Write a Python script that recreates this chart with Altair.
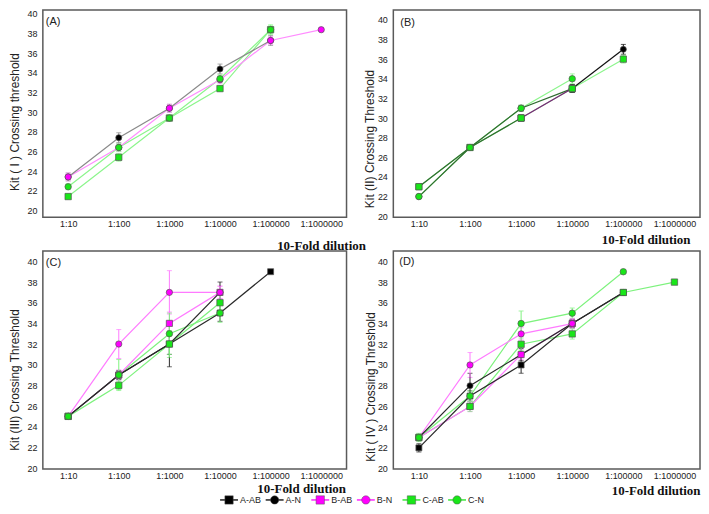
import altair as alt
import pandas as pd

N = None
dilutions = ["1:10", "1:100", "1:1000", "1:10000", "1:100000", "1:1000000"]
series = ["A-AB", "A-N", "B-AB", "B-N", "C-AB", "C-N"]
y_ticks = [20, 22, 24, 26, 28, 30, 32, 34, 36, 38, 40]

# ---- Kit (I) : panel A
k1_AAB = [N, N, N, N, N, N]
k1_AN = [23.4, 27.4, 30.4, 34.4, 37.3, N]
k1_BAB = [N, N, N, N, N, N]
k1_BN = [23.4, 26.4, 30.4, 33.3, 37.3, 38.4]
k1_CAB = [21.4, 25.4, 29.4, 32.4, 38.4, N]
k1_CN = [22.4, 26.4, 29.4, 33.4, 38.4, N]
e1_AAB = [N, N, N, N, N, N]
e1_AN = [0.4, 0.5, 0.4, 0.5, 0.5, N]
e1_BAB = [N, N, N, N, N, N]
e1_BN = [0.4, 0.4, 0.4, 0.4, 0.4, 0.0]
e1_CAB = [0.3, 0.4, 0.3, 0.3, 0.4, N]
e1_CN = [0.3, 0.4, 0.3, 0.4, 0.5, N]

# ---- Kit (II) : panel B
k2_AAB = [23, 27, 30, N, N, N]
k2_AN = [N, N, N, 33, 37, N]
k2_BAB = [N, N, 30, 33, N, N]
k2_BN = [22, 27, 31, 33, N, N]
k2_CAB = [23, 27, 30, 33, 36, N]
k2_CN = [22, 27, 31, 34, N, N]
e2_AAB = [0.2, 0.2, 0.3, N, N, N]
e2_AN = [N, N, N, 0.4, 0.5, N]
e2_BAB = [N, N, 0.3, 0.4, N, N]
e2_BN = [0.2, 0.2, 0.3, 0.4, N, N]
e2_CAB = [0.2, 0.2, 0.3, 0.3, 0.4, N]
e2_CN = [0.2, 0.2, 0.3, 0.5, N, N]

# ---- Kit (III) : panel C
k3_AAB = [25, 29, 32, 35, 39, N]
k3_AN = [25, 29, 32, 37, N, N]
k3_BAB = [25, 29, 34, 37, N, N]
k3_BN = [25, 32, 37, 37, N, N]
k3_CAB = [25, 28, 32, 36, N, N]
k3_CN = [25, 29, 33, 35, N, N]
e3_AAB = [0.2, 0.4, 2.2, 0.8, 0.1, N]
e3_AN = [0.2, 0.4, 1.0, 1.0, N, N]
e3_BAB = [0.2, 0.5, 1.1, 0.6, N, N]
e3_BN = [0.2, 1.4, 2.1, 0.6, N, N]
e3_CAB = [0.2, 0.4, 1.3, 0.7, N, N]
e3_CN = [0.2, 1.5, 2.0, 0.9, N, N]

# ---- Kit (IV) : panel D
k4_AAB = [22, 27, 30, 34, 37, N]
k4_AN = [23, 28, 31, 34, 37, N]
k4_BAB = [23, 26, 31, 34, N, N]
k4_BN = [23, 30, 33, 34, N, N]
k4_CAB = [23, 26, 32, 33, 37, 38]
k4_CN = [23, 27, 34, 35, 39, N]
e4_AAB = [0.4, 0.5, 0.8, 0.4, 0.2, N]
e4_AN = [0.3, 1.2, 0.6, 0.4, 0.2, N]
e4_BAB = [0.3, 0.5, 0.5, 0.5, N, N]
e4_BN = [0.3, 1.2, 0.6, 0.4, N, N]
e4_CAB = [0.3, 0.5, 0.6, 0.5, 0.2, 0.1]
e4_CN = [0.4, 0.5, 1.2, 0.5, 0.1, N]

# ---- styles
marker_fill = ["#000000", "#000000", "#ff00ff", "#ff00ff", "#19e619", "#19e619"]
marker_shape = ["square", "circle", "square", "circle", "square", "circle"]
marker_size = [36, 42, 32, 36, 28, 22]
line_A = ["#8a8a8a", "#8a8a8a", "#ff8cff", "#ff8cff", "#8cf58c", "#8cf58c"]
line_B = ["#2f6b2f", "#111111", "#7a1f7a", "#2f6b2f", "#8cf58c", "#8cf58c"]
line_CD = ["#2a2a2a", "#2a2a2a", "#ff7aff", "#ff7aff", "#7df27d", "#7df27d"]

SANS = "Liberation Sans"
SERIF = "Liberation Serif"


def make_df(vals, errs):
    rows = []
    for s, v_list, e_list in zip(series, vals, errs):
        for d, v, e in zip(dilutions, v_list, e_list):
            if v is None:
                continue
            e = e or 0.0
            rows.append({"series": s, "dil": d, "ct": v, "lo": v - e, "hi": v + e})
    return pd.DataFrame(rows)


def panel(df, letter, ytitle, ydom, line_colors, w, h, xt_x, xt_y, yt_x, yt_y, lab_dx, lab_dy, legend=False):
    x_axis = alt.Axis(
        title="10-Fold dilution", labelAngle=0, labelFont=SANS, labelFontSize=9, labelColor="#222",
        ticks=False, domain=False, grid=False, labelPadding=2,
        titleFont=SERIF, titleFontWeight="bold", titleFontSize=13, titleColor="#111",
        titleX=xt_x, titleY=xt_y, titleAlign="right", titleBaseline="middle", titleAngle=0,
    )
    y_axis = alt.Axis(
        title=ytitle, values=y_ticks, labelFont=SANS, labelFontSize=9, labelColor="#222",
        ticks=False, domain=False, grid=False, labelPadding=6,
        titleFont=SANS, titleFontSize=12, titleFontWeight="normal", titleColor="#222",
        titleX=yt_x, titleY=yt_y, titleAngle=270, titleAlign="center", titleBaseline="middle",
    )
    xs = alt.Scale(type="point", domain=dilutions, padding=0.5)
    ys = alt.Scale(domain=ydom, nice=False, zero=False)
    x = alt.X("dil:O", scale=xs, axis=x_axis)
    color = alt.Color("series:N", scale=alt.Scale(domain=series, range=line_colors), legend=None)

    err = alt.Chart(df).mark_errorbar(ticks={"size": 5}, thickness=1).encode(
        x=x, y=alt.Y("lo:Q", scale=ys, axis=y_axis), y2="hi:Q", color=color
    )
    # lines drawn in reverse series order so the A/B lines sit above the C lines
    lines = alt.Chart(df.iloc[::-1].reset_index(drop=True)).mark_line(strokeWidth=1.2).encode(
        x=x, y=alt.Y("ct:Q", scale=ys, axis=y_axis), color=color, detail="series:N"
    )
    pts = alt.Chart(df).mark_point(filled=True, stroke="#555", strokeWidth=0.7, opacity=1).encode(
        x=x, y=alt.Y("ct:Q", scale=ys, axis=y_axis),
        fill=alt.Fill("series:N", scale=alt.Scale(domain=series, range=marker_fill), legend=None),
        shape=alt.Shape("series:N", scale=alt.Scale(domain=series, range=marker_shape), legend=None),
        size=alt.Size("series:N", scale=alt.Scale(domain=series, range=marker_size), legend=None),
    )
    lab = alt.Chart(pd.DataFrame({"t": [letter]})).mark_text(
        align="left", baseline="top", font=SANS, fontSize=11, color="#222"
    ).encode(x=alt.value(lab_dx), y=alt.value(lab_dy), text="t:N")

    main = alt.layer(err, lines, pts, lab)
    if legend:
        ldf = pd.DataFrame({"series": series})
        lx = alt.X("series:N", scale=alt.Scale(type="point", domain=series, range=[187, 416], padding=0), axis=None)
        ly = alt.value(h + 31)
        lrule = alt.Chart(ldf).mark_rule(strokeWidth=1.3, xOffset=-9, x2Offset=9).encode(
            x=lx, x2="series:N", y=ly,
            stroke=alt.Stroke("series:N", scale=alt.Scale(domain=series, range=marker_fill), legend=None),
        )
        lpts = alt.Chart(ldf).mark_point(filled=True, size=70, opacity=1, stroke="#555", strokeWidth=0.5).encode(
            x=lx, y=ly,
            fill=alt.Fill("series:N", scale=alt.Scale(domain=series, range=marker_fill), legend=None),
            shape=alt.Shape("series:N", scale=alt.Scale(domain=series, range=marker_shape), legend=None),
        )
        ltxt = alt.Chart(ldf).mark_text(align="left", baseline="middle", dx=11, font=SANS, fontSize=9, color="#222").encode(
            x=lx, y=ly, text="series:N"
        )
        leg = alt.layer(lrule, lpts, ltxt)
        return alt.layer(main, leg).resolve_scale(x="independent").properties(width=w, height=h)
    return main.properties(width=w, height=h)


dfA = make_df([k1_AAB, k1_AN, k1_BAB, k1_BN, k1_CAB, k1_CN], [e1_AAB, e1_AN, e1_BAB, e1_BN, e1_CAB, e1_CN])
dfB = make_df([k2_AAB, k2_AN, k2_BAB, k2_BN, k2_CAB, k2_CN], [e2_AAB, e2_AN, e2_BAB, e2_BN, e2_CAB, e2_CN])
dfC = make_df([k3_AAB, k3_AN, k3_BAB, k3_BN, k3_CAB, k3_CN], [e3_AAB, e3_AN, e3_BAB, e3_BN, e3_CAB, e3_CN])
dfD = make_df([k4_AAB, k4_AN, k4_BAB, k4_BN, k4_CAB, k4_CN], [e4_AAB, e4_AN, e4_BAB, e4_BN, e4_CAB, e4_CN])

hA, hC = 208, 219
wA, wB = 305, 308

pA = panel(dfA, "(A)", "Kit ( I ) Crossing threshold", [19.3, 40.4], line_A, wA, hA,
           wA + 19, 28, -28, 112, 3, 6)
pB = panel(dfB, "(B)", "Kit  (II)  Crossing Threshold", [19.9, 41.0], line_B, wB, hA,
           wB - 10, 22, -24, 129, 7, 7)
pC = panel(dfC, "(C)", "Kit (III) Crossing Threshold", [19.9, 41.0], line_CD, wA, hC,
           wA - 1, 19.5, -28, 129, 3, 6, legend=True)
pD = panel(dfD, "(D)", "Kit ( IV ) Crossing Threshold", [19.95, 41.0], line_CD, wB, hC,
           wB, 22, -23, 136, 6, 5)

chart = alt.concat(
    pA, pB, pC, pD, columns=2, spacing={"row": 34, "column": 47}, bounds="flush", align="each"
).resolve_scale(
    x="independent", y="independent", color="independent", fill="independent",
    shape="independent", size="independent", stroke="independent",
).properties(padding=0).configure_view(stroke="#5a5a5a", strokeWidth=1.5)

chart.save("out.html", embed_options={"renderer": "svg", "actions": False})
